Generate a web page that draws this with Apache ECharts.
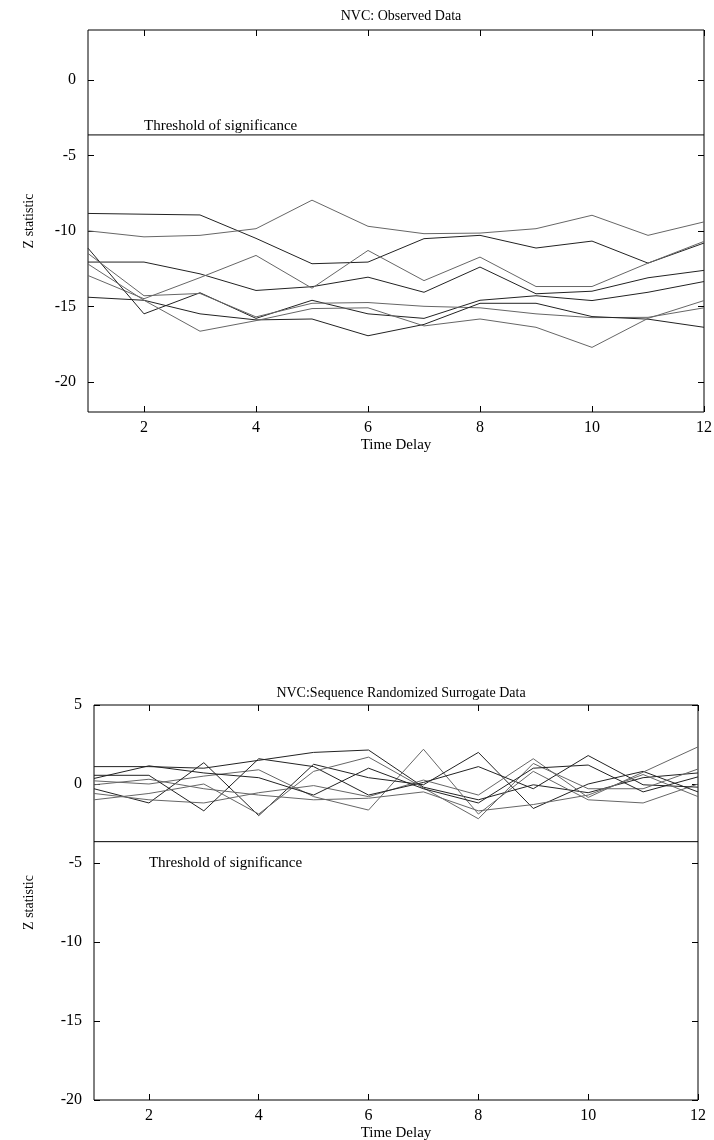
<!DOCTYPE html>
<html>
<head>
<meta charset="utf-8">
<script src="https://cdn.jsdelivr.net/npm/echarts@6/dist/echarts.min.js"></script>
<style>
  html, body { margin: 0; background: #fff; }
  #chart { width: 714px; height: 1140px; }
</style>
</head>
<body>
<div id="chart"></div>
<script>
// time delays on the x axis
const timeDelay = [1, 2, 3, 4, 5, 6, 7, 8, 9, 10, 11, 12]
const xTicks = [2, 4, 6, 8, 10, 12]
const observedTicks = [0, -5, -10, -15, -20]
const surrogateTicks = [5, 0, -5, -10, -15, -20]
const threshold = -3.65
const thresholdText = 'Threshold of significance'

// NVC: observed data, one list per run
const obsA = [-8.85, -8.9, -8.95, -10.5, -12.18, -12.07, -10.52, -10.3, -11.14, -10.68, -12.14, -10.81]
const obsB = [-10.0, -10.4, -10.3, -9.86, -7.97, -9.7, -10.19, -10.15, -9.86, -8.97, -10.3, -9.41]
const obsC = [-12.07, -12.07, -12.85, -13.95, -13.7, -13.07, -14.07, -12.4, -14.17, -14.0, -13.11, -12.62]
const obsD = [-12.96, -14.5, -13.1, -11.63, -13.8, -11.3, -13.3, -11.74, -13.69, -13.69, -12.14, -10.7]
const obsE = [-11.15, -15.5, -14.1, -15.8, -14.6, -15.5, -15.8, -14.6, -14.3, -14.62, -14.07, -13.36]
const obsF = [-11.5, -14.3, -14.15, -15.7, -14.8, -14.75, -15.0, -15.1, -15.5, -15.75, -15.73, -15.1]
const obsG = [-14.4, -14.6, -15.5, -15.9, -15.84, -16.95, -16.2, -14.8, -14.8, -15.68, -15.85, -16.39]
const obsH = [-12.2, -14.6, -16.65, -15.95, -15.15, -15.1, -16.3, -15.84, -16.39, -17.72, -15.8, -14.62]

// NVC: sequence randomized surrogate data
const surA = [1.1, 1.1, 1.0, 1.5, 2.0, 2.15, -0.2, -1.0, -0.05, -0.55, 0.4, 0.7]
const surB = [0.2, 0.0, 0.5, 0.9, -0.8, -1.65, 2.2, -1.9, 0.8, -1.0, -1.2, 0.0]
const surC = [-0.3, -1.2, 1.35, -2.0, 1.25, 0.4, -0.05, 2.0, -1.55, 0.0, 0.8, -0.5]
const surD = [-0.6, -1.0, -1.2, -0.55, -0.1, -0.8, 0.25, -0.7, 1.6, -0.85, 0.75, 2.35]
const surE = [0.55, 0.55, -1.7, 1.6, 1.1, -0.7, 0.1, 1.1, -0.3, 1.8, -0.05, -0.2]
const surF = [-1.0, -0.6, 0.0, -1.9, 0.8, 1.7, -0.25, -2.2, 1.3, -0.3, -0.3, 0.95]
const surG = [0.35, 1.15, 0.7, 0.4, -0.7, 1.0, -0.3, -1.2, 1.0, 1.2, -0.5, 0.45]
const surH = [-0.05, 0.3, -0.3, -0.7, -1.0, -0.9, -0.5, -1.7, -1.3, -0.7, 0.6, -0.8]

const observed = [obsA, obsB, obsC, obsD, obsE, obsF, obsG, obsH]
const surrogate = [surA, surB, surC, surD, surE, surF, surG, surH]
const lineColors = ['#222', '#666', '#222', '#666', '#222', '#666', '#222', '#666']

const font = 'Liberation Serif'

const chart = echarts.init(document.getElementById('chart'))

const tickStyle = { show: true, inside: true, length: 6, lineStyle: { color: '#000', width: 1 } }

const makeX = (gridIndex, position, showLabel) => ({
  type: 'value',
  gridIndex,
  position,
  min: 1,
  max: 12,
  name: showLabel ? 'Time Delay' : '',
  nameLocation: 'middle',
  nameGap: 26,
  nameTextStyle: { fontFamily: font, fontSize: 15, color: '#000' },
  axisLine: { show: false, onZero: false },
  splitLine: { show: false },
  axisTick: { ...tickStyle, customValues: xTicks },
  axisLabel: {
    show: showLabel,
    customValues: xTicks,
    fontFamily: font,
    fontSize: 16,
    color: '#000',
    margin: 8
  }
})

const makeY = (gridIndex, position, showLabel, min, max, ticks, nameGap) => ({
  type: 'value',
  gridIndex,
  position,
  min,
  max,
  name: showLabel ? 'Z statistic' : '',
  nameLocation: 'middle',
  nameGap,
  nameRotate: 90,
  nameTextStyle: { fontFamily: font, fontSize: 14, color: '#000' },
  axisLine: { show: false, onZero: false },
  splitLine: { show: false },
  axisTick: { ...tickStyle, customValues: ticks },
  axisLabel: {
    show: showLabel,
    customValues: ticks,
    fontFamily: font,
    fontSize: 16,
    color: '#000',
    margin: 12
  }
})

const lineSeries = (rows, axisIndex) => rows.map((vals, i) => ({
  type: 'line',
  xAxisIndex: axisIndex,
  yAxisIndex: axisIndex,
  symbol: 'none',
  silent: true,
  lineStyle: { color: lineColors[i], width: 1 },
  data: timeDelay.map((x, j) => [x, vals[j]])
}))

const thresholdSeries = (axisIndex, offsetY) => ([
  {
    type: 'line',
    xAxisIndex: axisIndex,
    yAxisIndex: axisIndex,
    symbol: 'none',
    silent: true,
    lineStyle: { color: '#000', width: 1 },
    data: [[timeDelay[0], threshold], [timeDelay[timeDelay.length - 1], threshold]]
  },
  {
    type: 'scatter',
    xAxisIndex: axisIndex,
    yAxisIndex: axisIndex,
    symbolSize: 0,
    silent: true,
    itemStyle: { opacity: 1 },
    label: {
      show: true,
      position: 'right',
      distance: 0,
      offset: [0, offsetY],
      formatter: thresholdText,
      fontFamily: font,
      fontSize: 15,
      color: '#000',
      opacity: 1
    },
    data: [[2, threshold]]
  }
])

const option = {
  backgroundColor: '#fff',
  animation: false,
  title: [
    {
      text: 'NVC: Observed Data',
      left: 396,
      top: 4,
      textAlign: 'center',
      textStyle: { fontFamily: font, fontSize: 14, fontWeight: 'normal', color: '#000' }
    },
    {
      text: 'NVC:Sequence Randomized Surrogate Data',
      left: 396,
      top: 681,
      textAlign: 'center',
      textStyle: { fontFamily: font, fontSize: 14, fontWeight: 'normal', color: '#000' }
    }
  ],
  grid: [
    { left: 88, right: 10, top: 30, height: 382, outerBoundsMode: 'none', show: true, borderColor: '#000', borderWidth: 1 },
    { left: 94, right: 16, top: 705, height: 395, outerBoundsMode: 'none', show: true, borderColor: '#000', borderWidth: 1 }
  ],
  xAxis: [
    makeX(0, 'bottom', true),
    makeX(1, 'bottom', true),
    makeX(0, 'top', false),
    makeX(1, 'top', false)
  ],
  yAxis: [
    makeY(0, 'left', true, -22, 3.3, observedTicks, 52),
    makeY(1, 'left', true, -20, 5, surrogateTicks, 58),
    makeY(0, 'right', false, -22, 3.3, observedTicks, 0),
    makeY(1, 'right', false, -20, 5, surrogateTicks, 0)
  ],
  series: [
    ...lineSeries(observed, 0),
    ...thresholdSeries(0, -9),
    ...lineSeries(surrogate, 1),
    ...thresholdSeries(1, 21)
  ]
}

chart.setOption(option)
</script>
</body>
</html>
